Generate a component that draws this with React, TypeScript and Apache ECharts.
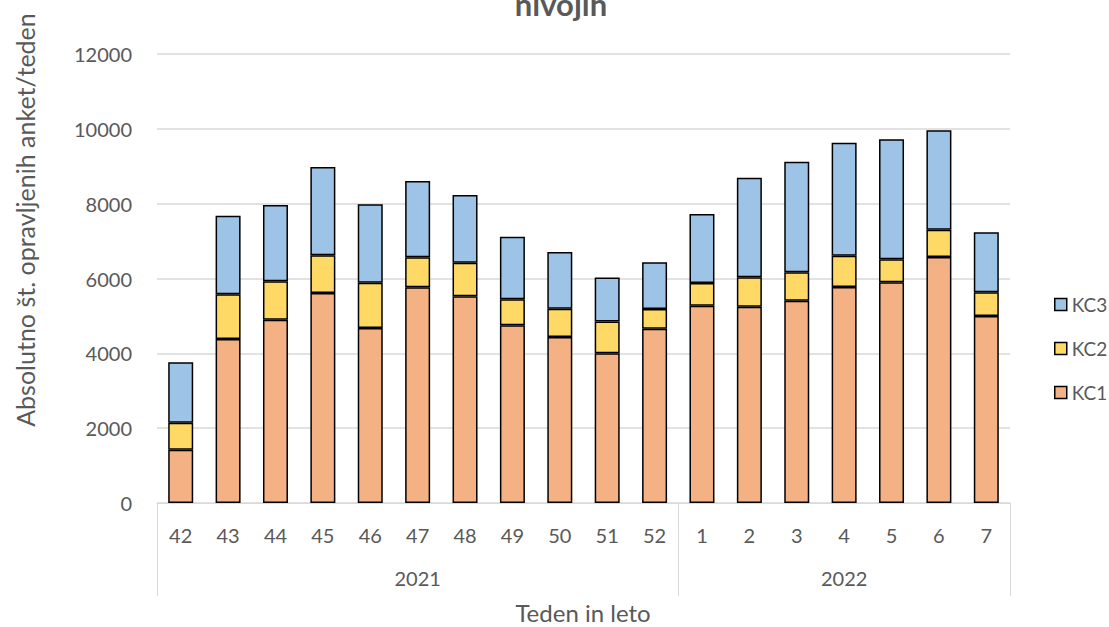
import React, { useEffect, useRef } from "react";
import * as echarts from "echarts";

const weeks = ["42","43","44","45","46","47","48","49","50","51","52","1","2","3","4","5","6","7"];
const years = ["","","","","","2021","","","","","","","","","2022","","",""];
const kc1 = [1425,4383,4899,5612,4677,5764,5524,4749,4436,4000,4658,5273,5246,5406,5772,5898,6574,4997];
const kc2 = [721,1194,1026,1007,1211,802,898,695,757,850,526,606,785,759,838,614,730,634];
const kc3 = [1614,2101,2039,2360,2094,2039,1809,1673,1515,1180,1248,1844,2663,2956,3019,3207,2656,1603];
const yTicks = { min: 0, max: 12000, interval: 2000 };

const FONT = "Lato, 'Open Sans', sans-serif";
const GREY = "#595959";

export default function App() {
  const ref = useRef<HTMLDivElement>(null);
  useEffect(() => {
    const chart = echarts.init(ref.current!, null, { renderer: "svg" });
    const barStyle = (color: string) => ({ color, borderColor: "#000", borderWidth: 1.5 });
    chart.setOption({
      animation: false,
      textStyle: { fontFamily: FONT },
      grid: { left: 157, right: 99, top: 54, bottom: 124 },
      legend: {
        orient: "vertical",
        left: 1049,
        top: 290,
        itemGap: 25,
        itemWidth: 12,
        itemHeight: 12,
        icon: "rect",
        data: ["KC3", "KC2", "KC1"],
        textStyle: { color: GREY, fontSize: 19, fontFamily: FONT },
        itemStyle: { borderColor: "#000", borderWidth: 1.5 },
      },
      graphic: [
        {
          type: "text",
          x: 561,
          y: 19,
          style: {
            text: "nivojih",
            font: `bold 31px ${FONT}`,
            fill: GREY,
            align: "center",
            verticalAlign: "bottom",
          },
        },
        {
          type: "text",
          x: 25,
          y: 220,
          rotation: Math.PI / 2,
          style: {
            text: "Absolutno št. opravljenih anket/teden",
            font: `25px ${FONT}`,
            fill: GREY,
            align: "center",
            verticalAlign: "middle",
          },
        },
        {
          type: "text",
          x: 583,
          y: 612,
          style: {
            text: "Teden in leto",
            font: `24px ${FONT}`,
            fill: GREY,
            align: "center",
            verticalAlign: "middle",
          },
        },
      ],
      xAxis: [
        {
          type: "category",
          data: weeks,
          axisLine: { lineStyle: { color: "#d9d9d9", width: 1 } },
          axisTick: {
            show: true,
            length: 93,
            interval: (i: number) => i === 0 || i === 11,
            lineStyle: { color: "#d9d9d9" },
          },
          axisLabel: { color: GREY, fontSize: 20, margin: 22, interval: 0, fontFamily: FONT },
        },
        {
          type: "category",
          data: years,
          position: "bottom",
          axisLine: { show: false },
          axisTick: { show: false },
          axisLabel: { color: GREY, fontSize: 20, margin: 65, interval: 0, fontFamily: FONT },
        },
      ],
      yAxis: {
        type: "value",
        min: yTicks.min,
        max: yTicks.max,
        interval: yTicks.interval,
        axisLine: { show: false },
        axisTick: { show: false },
        splitLine: { lineStyle: { color: "#d9d9d9", width: 1.5 } },
        axisLabel: {
          color: GREY,
          fontSize: 20,
          margin: 25,
          fontFamily: FONT,
          formatter: (v: number) => String(v),
        },
      },
      series: [
        { name: "KC1", type: "bar", stack: "s", barWidth: 25, data: kc1, itemStyle: barStyle("#F4B183") },
        { name: "KC2", type: "bar", stack: "s", barWidth: 25, data: kc2, itemStyle: barStyle("#FFD966") },
        { name: "KC3", type: "bar", stack: "s", barWidth: 25, data: kc3, itemStyle: barStyle("#9DC3E6") },
      ],
    });
    return () => chart.dispose();
  }, []);
  return (
    <div
      ref={ref}
      style={{ position: "fixed", left: 0, top: 0, width: 1109, height: 627, background: "#fff" }}
    />
  );
}
